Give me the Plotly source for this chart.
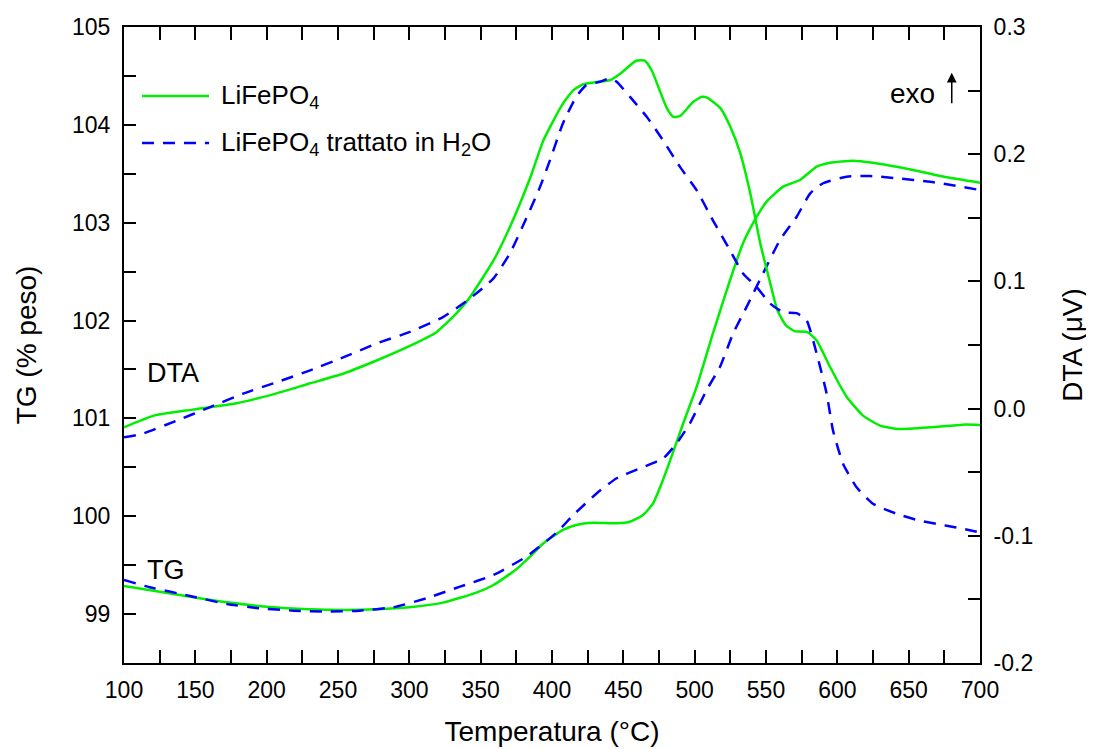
import plotly.graph_objects as go

# ---- data ----
dta_lfp_T = [100, 121, 148, 179, 207, 230, 254, 277, 300, 319, 333, 342.5, 359, 370.5, 384.6, 394,
             407, 415, 422, 431, 441, 448, 459, 465, 470, 474.5, 480.5, 485, 490, 499, 505, 509,
             518, 525, 532, 539, 546, 553, 558, 564, 570, 579, 585.5, 595, 606.5, 618, 630, 642,
             665, 688, 700]
dta_lfp = [-0.0147, -0.0055, -0.0008, 0.0042, 0.0120, 0.0197, 0.0276, 0.0378, 0.0491, 0.0601,
           0.0748, 0.0876, 0.1165, 0.1428, 0.1811, 0.211, 0.2386, 0.2504, 0.2551, 0.2567, 0.2583,
           0.2635, 0.2735, 0.2735, 0.2656, 0.253, 0.2362, 0.2294, 0.2302, 0.2412, 0.2451, 0.2443,
           0.2362, 0.2215, 0.2006, 0.1691, 0.1299, 0.0984, 0.0772, 0.0654, 0.0609, 0.0601, 0.0535,
           0.0325, 0.0093, -0.0055, -0.0134, -0.016, -0.0147, -0.0126, -0.0128]

dta_h2o_T = [100, 113, 137, 160, 183.5, 207, 230, 254, 277, 300, 323.6, 342.5, 359, 370.5, 382,
             391.6, 398.6, 407.7, 417, 424, 433.6, 440.6, 445.3, 454.7, 466.4, 477.8, 489.7, 501.4,
             512.8, 524.8, 533.9, 543.5, 552.8, 562, 571.5, 578.5, 585.5, 592.5, 597, 604, 613.6,
             625, 641.6, 658, 676.7, 688, 700]
dta_h2o = [-0.0226, -0.0197, -0.0094, 0.0010, 0.0118, 0.0207, 0.0299, 0.0404, 0.0512, 0.0601,
           0.0719, 0.0866, 0.1024, 0.122, 0.1496, 0.1743, 0.1953, 0.2244, 0.2451, 0.2543, 0.2569,
           0.2596, 0.2569, 0.2451, 0.2294, 0.211, 0.19, 0.1717, 0.148, 0.1244, 0.1063, 0.0955,
           0.0827, 0.0758, 0.075, 0.0693, 0.0433, 0.0118, -0.0173, -0.0433, -0.062, -0.0748,
           -0.0827, -0.0882, -0.0921, -0.0945, -0.0974]

tg_lfp_T = [100, 125, 148.6, 172, 200, 230, 254, 277, 300, 323.6, 347, 359, 375, 384.6, 394, 407.7,
            417, 428.8, 445.3, 454.7, 463.8, 470.9, 477.8, 485, 492, 501.4, 512.8, 524.8, 533.9,
            543.5, 550.4, 562, 573.8, 585.5, 594.8, 611, 625, 641.6, 655.6, 676.7, 700]
tg_lfp = [99.287, 99.229, 99.172, 99.121, 99.076, 99.049, 99.042, 99.049, 99.070, 99.117, 99.219,
          99.297, 99.458, 99.587, 99.724, 99.86, 99.911, 99.934, 99.928, 99.944, 100.013, 100.132,
          100.37, 100.66, 100.95, 101.324, 101.87, 102.414, 102.79, 103.061, 103.215, 103.368,
          103.436, 103.572, 103.613, 103.634, 103.613, 103.572, 103.531, 103.464, 103.409]

tg_h2o_T = [100, 118, 148.6, 172, 195, 219, 242, 265, 289, 312, 335.5, 359, 382, 403, 415, 431.4,
            445.3, 461.7, 478, 487.4, 496.7, 508.4, 517.8, 527, 536.5, 548, 559.8, 571.5, 581, 590,
            606.5, 623, 641.6, 665, 700]
tg_h2o = [99.348, 99.274, 99.178, 99.103, 99.059, 99.035, 99.025, 99.035, 99.07, 99.162, 99.28,
          99.40, 99.587, 99.83, 100.013, 100.235, 100.388, 100.49, 100.592, 100.746, 100.95, 101.29,
          101.528, 101.87, 102.142, 102.483, 102.823, 103.061, 103.3, 103.403, 103.47, 103.477,
          103.454, 103.419, 103.334]

x_ticks = [100, 150, 200, 250, 300, 350, 400, 450, 500, 550, 600, 650, 700]
tg_ticks = [99, 100, 101, 102, 103, 104, 105]
tg_labels = ["99", "100", "101", "102", "103", "104", "105"]
dta_ticks = [-0.2, -0.1, 0.0, 0.1, 0.2, 0.3]
dta_labels = ["-0.2", "-0.1", "0.0", "0.1", "0.2", "0.3"]

series_names = ["LiFePO<sub>4</sub>", "LiFePO<sub>4</sub> trattato in H<sub>2</sub>O"]

GREEN = "#00EE00"
BLUE = "#0000FF"
DASH = "12px,9px"
FONT = "Liberation Sans, Arial, sans-serif"

fig = go.Figure()
fig.add_trace(go.Scatter(x=dta_lfp_T, y=dta_lfp, yaxis="y2", mode="lines",
                         line=dict(color=GREEN, width=2.5, shape="spline", smoothing=0.5),
                         name=series_names[0], showlegend=False))
fig.add_trace(go.Scatter(x=dta_h2o_T, y=dta_h2o, yaxis="y2", mode="lines",
                         line=dict(color=BLUE, width=2.5, dash=DASH, shape="spline", smoothing=0.5),
                         name=series_names[1], showlegend=False))
fig.add_trace(go.Scatter(x=tg_lfp_T, y=tg_lfp, mode="lines",
                         line=dict(color=GREEN, width=2.5, shape="spline", smoothing=0.5),
                         name=series_names[0], showlegend=False))
fig.add_trace(go.Scatter(x=tg_h2o_T, y=tg_h2o, mode="lines",
                         line=dict(color=BLUE, width=2.5, dash=DASH, shape="spline", smoothing=0.5),
                         name=series_names[1], showlegend=False))

axis_common = dict(showgrid=False, zeroline=False, showline=True, linecolor="black", linewidth=2,
                   ticks="inside", tickcolor="black", tickwidth=1.5, automargin=False,
                   tickfont=dict(family=FONT, size=23, color="black"))

# the page body has an 8px margin: the figure is shrunk so that it fits the 1094x749 window
fig.update_layout(
    width=1086, height=741,
    margin=dict(l=116, r=114, t=19, b=86),
    paper_bgcolor="white", plot_bgcolor="white",
    font=dict(family=FONT, color="black"),
    xaxis=dict(range=[100, 700], tickvals=x_ticks, ticklen=13, mirror="allticks",
               ticklabelstandoff=5,
               minor=dict(dtick=25, tick0=100, ticklen=7, ticks="inside", tickcolor="black", tickwidth=1.5),
               title=dict(text="Temperatura (°C)", font=dict(family=FONT, size=28), standoff=20),
               **axis_common),
    yaxis=dict(range=[98.5, 105], tickvals=tg_ticks, ticktext=tg_labels, ticklen=12,
               ticklabelstandoff=7,
               minor=dict(dtick=0.5, tick0=99, ticklen=12, ticks="inside", tickcolor="black", tickwidth=1.5),
               title=dict(text="TG (% peso)", font=dict(family=FONT, size=28), standoff=27),
               **axis_common),
    yaxis2=dict(range=[-0.2, 0.3], tickvals=dta_ticks, ticktext=dta_labels, ticklen=12,
                overlaying="y", side="right", ticklabelstandoff=7,
                minor=dict(dtick=0.05, tick0=-0.2, ticklen=12, ticks="inside", tickcolor="black", tickwidth=1.5),
                title=dict(text="DTA (μV)", font=dict(family=FONT, size=28), standoff=30),
                **axis_common),
    showlegend=False,
)

# legend drawn as line samples + labels
legend_rows = [(0.8915, GREEN, "solid"), (0.8176, BLUE, DASH)]
for (ly, col, dsh), nm in zip(legend_rows, series_names):
    fig.add_shape(type="line", xref="paper", yref="paper", x0=0.021, x1=0.0993, y0=ly, y1=ly,
                  line=dict(color=col, width=2.5, dash=dsh))
    fig.add_annotation(x=0.111, y=ly, xref="paper", yref="paper", text=nm, showarrow=False,
                       xanchor="left", yanchor="middle", font=dict(family=FONT, size=26))

fig.add_annotation(x=0.0572, y=0.456, xref="paper", yref="paper", text="DTA", showarrow=False,
                   xanchor="center", yanchor="middle", font=dict(family=FONT, size=27))
fig.add_annotation(x=0.049, y=0.146, xref="paper", yref="paper", text="TG", showarrow=False,
                   xanchor="center", yanchor="middle", font=dict(family=FONT, size=27))
fig.add_annotation(x=0.921, y=0.896, xref="paper", yref="paper", text="exo", showarrow=False,
                   xanchor="center", yanchor="middle", font=dict(family=FONT, size=28))
fig.add_annotation(x=0.967, y=0.928, xref="paper", yref="paper", text="", showarrow=True,
                   ax=0, ay=32, arrowhead=2, arrowsize=1.3, arrowwidth=1.5, arrowcolor="black")

fig.write_html("out.html")
